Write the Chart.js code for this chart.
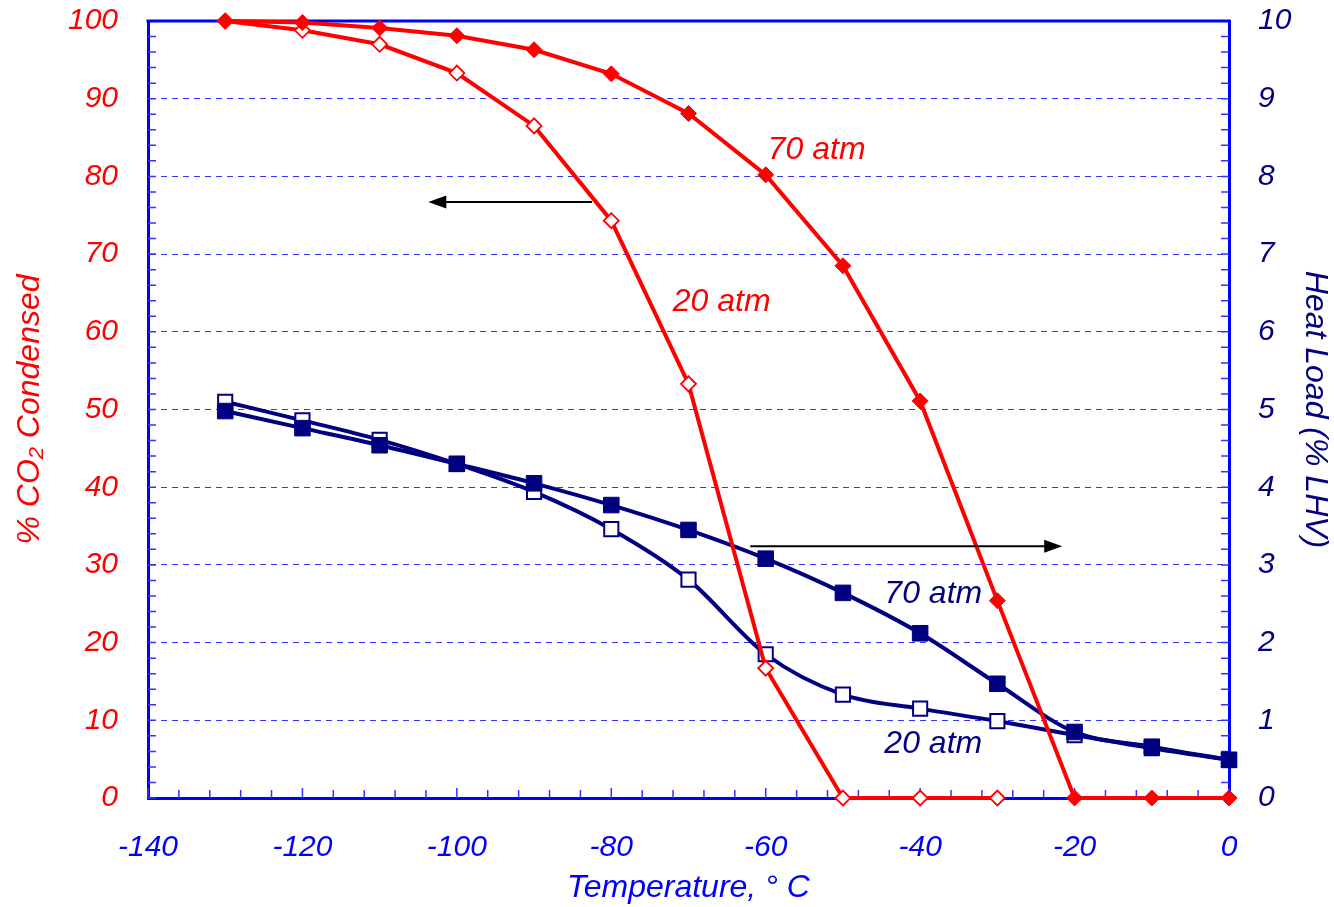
<!DOCTYPE html>
<html><head><meta charset="utf-8">
<script src="https://cdn.jsdelivr.net/npm/chart.js@4/dist/chart.umd.min.js"></script>
<style>html,body{margin:0;padding:0;background:#fff}canvas{display:block}</style>
</head><body>
<canvas id="c" width="1334" height="907"></canvas>
<script>
// ---- data ----
const temperatures = [-130,-120,-110,-100,-90,-80,-70,-60,-50,-40,-30,-20,-10,0];
const co2Condensed70 = [100,99.8,99.1,98.1,96.3,93.2,88.1,80.2,68.5,51.1,25.4,0,0,0];
const co2Condensed20 = [100,98.8,97.0,93.3,86.5,74.3,53.3,16.7,0,0,0];
const heatLoad70 = [4.98,4.76,4.54,4.30,4.05,3.77,3.45,3.08,2.64,2.12,1.47,0.85,0.66,0.49];
const heatLoad20 = [5.10,4.86,4.61,4.30,3.94,3.46,2.81,1.85,1.33,1.15,0.99,0.81,0.64,0.49];
const leftTicks = [0,10,20,30,40,50,60,70,80,90,100];
const rightTicks = [0,1,2,3,4,5,6,7,8,9,10];
const xTicks = [-140,-120,-100,-80,-60,-40,-20,0];
// annotation labels: [text, x, leftAxisValue, color]
const seriesLabels = [
  ['70 atm', -53.4, 83.4, '#FF0000'],
  ['20 atm', -65.7, 63.8, '#FF0000'],
  ['70 atm', -38.3, 26.3, '#000080'],
  ['20 atm', -38.3, 6.9, '#000080']
];
// arrows: [xFrom, xTo, leftAxisValue]
const arrows = [[-82.5, -103.7, 76.7], [-62.0, -21.6, 32.4]];

const FONT = "'Liberation Sans', Arial, sans-serif";
const RED = '#FF0000', NAVY = '#000080', BLUE = '#0000FF';

const pts = (xs, ys) => ys.map((v, i) => ({x: xs[i], y: v}));

const deco = {
  id: 'deco',
  beforeDatasetsDraw(chart) {
    const {ctx, chartArea: a, scales} = chart;
    const x = scales.x, y = scales.y, y1 = scales.y1;
    ctx.save();
    ctx.strokeStyle = '#3333FF';
    ctx.lineWidth = 1.5;
    ctx.beginPath();
    for (let v = 0; v <= 100; v += 2) {
      const p = y.getPixelForValue(v);
      ctx.moveTo(a.left, p); ctx.lineTo(a.left + 8, p);
    }
    for (let v = 0; v <= 10.0001; v += 0.2) {
      const p = y1.getPixelForValue(v);
      ctx.moveTo(a.right, p); ctx.lineTo(a.right - 8, p);
    }
    for (let v = -140; v <= 0; v += 4) {
      const p = x.getPixelForValue(v);
      const len = (v % 20 === 0) ? 10 : 8;
      ctx.moveTo(p, a.bottom); ctx.lineTo(p, a.bottom - len);
    }
    ctx.stroke();
    ctx.strokeStyle = BLUE;
    ctx.lineWidth = 3;
    ctx.beginPath();
    ctx.moveTo(a.left - 1.5, a.top); ctx.lineTo(a.right + 1.5, a.top);
    ctx.stroke();
    ctx.restore();
  },
  afterDatasetsDraw(chart) {
    const {ctx, scales} = chart;
    const x = scales.x, y = scales.y;
    ctx.save();
    ctx.font = 'italic 32px ' + FONT;
    ctx.textAlign = 'center';
    ctx.textBaseline = 'middle';
    seriesLabels.forEach(([t, xv, yv, c]) => {
      ctx.fillStyle = c;
      ctx.fillText(t, x.getPixelForValue(xv), y.getPixelForValue(yv));
    });
    ctx.strokeStyle = '#000'; ctx.fillStyle = '#000'; ctx.lineWidth = 2;
    arrows.forEach(([x0, x1, yv]) => {
      const px0 = x.getPixelForValue(x0), px1 = x.getPixelForValue(x1), py = y.getPixelForValue(yv);
      const dir = Math.sign(px1 - px0);
      ctx.beginPath();
      ctx.moveTo(px0, py); ctx.lineTo(px1 - dir * 14, py); ctx.stroke();
      ctx.beginPath();
      ctx.moveTo(px1, py); ctx.lineTo(px1 - dir * 18, py - 6.5); ctx.lineTo(px1 - dir * 18, py + 6.5);
      ctx.closePath(); ctx.fill();
    });
    ctx.restore();
  }
};

const noPad = s => { s.paddingTop = 0; s.paddingBottom = 0; };

new Chart(document.getElementById('c'), {
  type: 'line',
  data: {
    datasets: [
      {label: '70 atm CO2', data: pts(temperatures, co2Condensed70), yAxisID: 'y',
       borderColor: RED, backgroundColor: RED, borderWidth: 4, pointStyle: 'rectRot',
       pointRadius: 8, pointBorderWidth: 1, pointBackgroundColor: RED, pointBorderColor: RED, clip: false, tension: 0},
      {label: '20 atm CO2', data: pts(temperatures, co2Condensed20), yAxisID: 'y',
       borderColor: RED, backgroundColor: '#fff', borderWidth: 4, pointStyle: 'rectRot',
       pointRadius: 7.5, pointBorderWidth: 1.8, pointBackgroundColor: '#fff', pointBorderColor: RED, clip: false, tension: 0},
      {label: '70 atm heat', data: pts(temperatures, heatLoad70), yAxisID: 'y1',
       borderColor: NAVY, backgroundColor: NAVY, borderWidth: 4, pointStyle: 'rect',
       pointRadius: 11, pointBorderWidth: 1, pointBackgroundColor: NAVY, pointBorderColor: NAVY, clip: false,
       cubicInterpolationMode: 'monotone'},
      {label: '20 atm heat', data: pts(temperatures, heatLoad20), yAxisID: 'y1',
       borderColor: NAVY, backgroundColor: '#fff', borderWidth: 4, pointStyle: 'rect',
       pointRadius: 10, pointBorderWidth: 2, pointBackgroundColor: '#fff', pointBorderColor: NAVY, clip: false,
       cubicInterpolationMode: 'monotone'}
    ]
  },
  options: {
    responsive: false, animation: false, devicePixelRatio: 1,
    layout: {padding: {top: 21, left: 0, right: 0, bottom: 0}},
    plugins: {legend: {display: false}, tooltip: {enabled: false}},
    scales: {
      x: {
        type: 'linear', min: -140, max: 0,
        afterBuildTicks: s => { s.ticks = xTicks.map(v => ({value: v})); },
        afterFit: s => { s.height = 109; s.paddingLeft = 0; s.paddingRight = 0; },
        grid: {display: false, drawTicks: false},
        border: {display: true, color: BLUE, width: 3},
        ticks: {color: BLUE, padding: 32, maxRotation: 0, font: {family: FONT, size: 30, style: 'italic'}},
        title: {display: true, text: 'Temperature, \u00B0 C', color: BLUE, padding: {top: 0, bottom: 0},
                font: {family: FONT, size: 32, style: 'italic'}}
      },
      y: {
        position: 'left', min: 0, max: 100,
        afterBuildTicks: s => { s.ticks = leftTicks.map(v => ({value: v})); },
        afterFit: s => { s.width = 148; noPad(s); },
        grid: {color: '#3333FF', lineWidth: 1, drawTicks: false},
        border: {display: true, color: BLUE, width: 3, dash: [6, 5]},
        ticks: {color: RED, padding: 30, font: {family: FONT, size: 30, style: 'italic'}},
        title: {display: true, text: '% CO\u2082 Condensed', color: RED, padding: {top: 11, bottom: 0},
                font: {family: FONT, size: 32, style: 'italic'}}
      },
      y1: {
        position: 'right', min: 0, max: 10,
        afterBuildTicks: s => { s.ticks = rightTicks.map(v => ({value: v})); },
        afterFit: s => { s.width = 105; noPad(s); },
        grid: {display: false, drawTicks: false},
        border: {display: true, color: BLUE, width: 3},
        ticks: {color: NAVY, padding: 29, font: {family: FONT, size: 30, style: 'italic'}},
        title: {display: true, text: 'Heat Load (% LHV)', color: NAVY, padding: {top: 0, bottom: 0},
                font: {family: FONT, size: 32, style: 'italic'}}
      }
    }
  },
  plugins: [deco]
});
</script>
</body></html>
